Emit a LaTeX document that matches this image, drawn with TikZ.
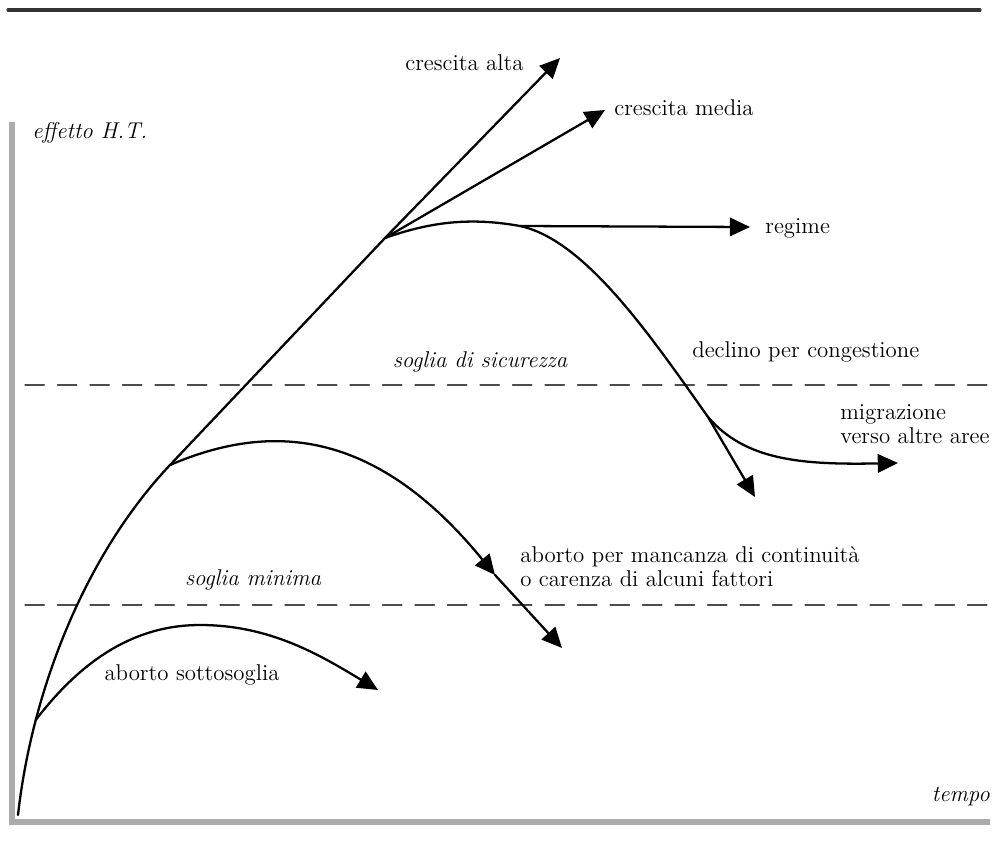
\documentclass[tikz,border=0pt]{standalone}
\usepackage{tikz}
\usetikzlibrary{arrows.meta}

\begin{document}
\begin{tikzpicture}[line cap=round,line join=round,>={Triangle[length=11.5pt,width=10.5pt]},x=0.02cm,y=-0.02cm,
  curva/.style={line width=1.3pt},
  soglia/.style={line width=0.7pt,color=black!70,dash pattern=on 11pt off 7.5pt},
  asse/.style={line width=3.4pt,color=black!33,line cap=butt,line join=miter},
  testo/.style={font=\fontsize{13}{13.5}\selectfont,inner sep=0pt,align=left},
  testoit/.style={testo,font=\fontsize{13}{13.5}\selectfont\itshape}]

\useasboundingbox (0,0) rectangle (998,856);

%\draw (0,0) rectangle (998,856);

% cornice e assi
\draw [line width=1.8pt,color=black!80] (8,10)-- (980,10);
\draw [asse] (12,122)-- (12,822)-- (990,822);
\draw [soglia] (25,385)-- (990,385);
\draw [soglia] (25,605)-- (990,605);

\coordinate (o) at (18,815);
\coordinate (b1) at (35.7,720);
\coordinate (b2) at (170,465);
\coordinate (b3) at (385,238);
\coordinate (alta) at (560,58);
\coordinate (media) at (605,110);
\coordinate (r0) at (520,226);
\coordinate (reg) at (750,227);
\coordinate (b4) at (708,417);
\coordinate (decl) at (755,497);
\coordinate (migr) at (898,463);
\coordinate (ab1) at (495,575);
\coordinate (ab2) at (562,648);
\coordinate (s1) at (200,625);
\coordinate (sotto) at (378,690);

% curve
\draw [curva,->] (o) .. controls (32,690) and (85,555) .. (b2)-- (b3)-- (alta);
\draw [curva,->] (b3)-- (media);
\draw [curva,->] (b3) .. controls (430,222) and (470,217) .. (r0)-- (reg);
\draw [curva] (r0) .. controls (585,240) and (650,335) .. (b4);
\draw [curva,->] (b4)-- (decl);
\draw [curva,->] (b4) .. controls (745,460) and (800,465) .. (migr);
\draw [curva,->] (b2) .. controls (270,422) and (375,428) .. (ab1);
\draw [curva,->] (ab1)-- (ab2);
\draw [curva,->] (b1) .. controls (78,665) and (130,625) .. (s1) .. controls (270,625) and (320,655) .. (sotto);

% testi
\node [testoit,anchor=west] (ht) at (32,133) {effetto H.T.};
\node [testoit,anchor=east] (tempo) at (990,797) {tempo};
\node [testoit] (sic) at (480,362) {soglia di sicurezza};
\node [testoit] (min) at (253,580) {soglia minima};
\node [testo,anchor=west] (lalta) at (405,63) {crescita alta};
\node [testo,anchor=west] (lmedia) at (614,108) {crescita media};
\node [testo,anchor=west] (lreg) at (765,228) {regime};
\node [testo,anchor=west] (ldecl) at (692,352) {declino per congestione};
\node [testo,anchor=west] (lmigr) at (840,424) {migrazione\\ verso altre aree};
\node [testo,anchor=west] (lab) at (520,567) {aborto per mancanza di continuità\\o carenza di alcuni fattori};
\node [testo] (lsotto) at (192,675) {aborto sottosoglia};
\end{tikzpicture}
\end{document}
